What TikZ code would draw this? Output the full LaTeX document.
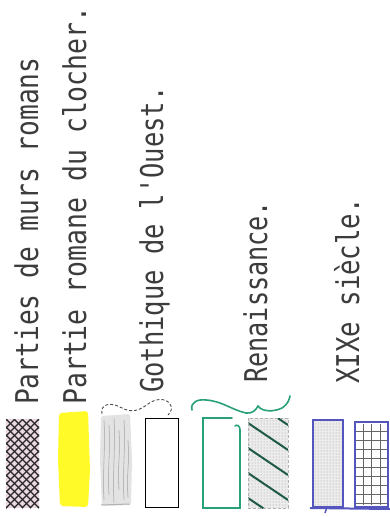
\documentclass[tikz,border=0pt]{standalone}
\usepackage{fontspec}
\newfontfamily\plotfont{DejaVu Sans Mono}
\usetikzlibrary{patterns}
\definecolor{txt}{RGB}{60,60,60}
\definecolor{grn}{RGB}{40,160,120}
\definecolor{dgrn}{RGB}{30,90,70}
\definecolor{blu}{RGB}{85,85,190}
\definecolor{yel}{RGB}{255,250,40}
\definecolor{pinkish}{RGB}{235,215,225}
\newcommand{\lt}[2]{\scalebox{#1}[1.22]{#2}}
\begin{document}
\begin{tikzpicture}[x=1pt,y=-1pt,
  lbl/.style={rotate=90, anchor=base west, inner sep=0pt,
    font=\plotfont\fontsize{25.7}{30}\selectfont, text=txt},
  swatch/.style={line width=1pt}]
\useasboundingbox (0,0) rectangle (390,517);
\fill[white] (0,0) rectangle (390,517);

% labels
\node[lbl] (t1) at (38,405) {\lt{1.02}{Parties de murs romans}};
\node[lbl] (t2) at (86,405) {\lt{1.03}{Partie romane du clocher.}};
\node[lbl] (t3) at (163,393) {\lt{0.99}{Gothique de l'Ouest.}};
\node[lbl] (t4) at (267,383) {\lt{0.98}{Renaissance.}};
\node[lbl] (t5) at (359,384) {\lt{1.0}{XIXe siècle.}};

% swatch 1 : diamond lattice
\begin{scope}
  \clip (6,419) rectangle (39,508);
  \fill[pinkish] (6,419) rectangle (39,508);
  \foreach \i in {-90,-82,...,46} {
    \draw[line width=1.4pt, black!85] (\i,419) -- ++(89,89);
    \draw[line width=1.4pt, black!85] (\i,508) -- ++(89,-89);
  }
\end{scope}

% swatch 2 : yellow
\fill[yel, rounded corners=3pt] (59,413) -- (88,411) -- (90,470) -- (88,507) -- (60,506) -- (58,460) -- cycle;

% swatch 3 : grey scribble
\fill[gray!22, rounded corners=2pt] (101,416) -- (130,414) -- (132,460) -- (131,505) -- (102,506) -- (100,460) -- cycle;
\foreach \x/\a/\b in {104/420/500, 109/425/495, 114/418/503, 119/430/490, 124/420/500, 128/440/498}
  \draw[gray!55, line width=0.8pt] (\x,\a) .. controls (\x+2,\a+30) and (\x-2,\b-30) .. (\x,\b);
\draw[gray!60, line width=1pt] (101,505) -- (130,504);
\draw[black!70, line width=0.9pt, densely dashed]
  (102,414) .. controls (100,404) and (110,402) .. (120,407)
  .. controls (132,414) and (140,410) .. (148,404)
  .. controls (156,398) and (166,398) .. (170,404)
  .. controls (173,408) and (171,412) .. (168,415);

% swatch 4 : empty black rectangle
\draw[swatch, black] (145,418) rectangle (178,507);

% green brace
\draw[grn, line width=1.6pt, line cap=round]
  (192,410) .. controls (190,402) and (198,399) .. (206,400)
  .. controls (222,401) and (232,410) .. (246,413)
  .. controls (252,414) and (256,410) .. (258,406)
  .. controls (262,412) and (274,412) .. (282,408)
  .. controls (288,404) and (289,400) .. (290,396);

% swatch 5 : open green rectangle
\draw[grn, line width=1.6pt, line cap=round]
  (232,418) -- (203,418) -- (203,508) -- (240,508) -- (240,430)
  .. controls (240,426) and (237,424) .. (235,426);

% swatch 6 : hatched
\begin{scope}
  \clip (248,418) rectangle (288,508);
  \fill[gray!15] (248,418) rectangle (288,508);
  \fill[pattern=dots, pattern color=gray!80] (248,418) rectangle (288,508);
  \foreach \y in {398,423,...,498}
    \draw[dgrn, line width=2pt] (248,\y) -- ++(40,27);
\end{scope}
\draw[gray!60, densely dashed, line width=0.8pt] (248,418) rectangle (288,508);

% swatch 7 : blue, dotted
\fill[gray!15] (313,420) rectangle (343,507);
\fill[pattern=dots, pattern color=gray!80] (313,420) rectangle (343,507);
\draw[blu, line width=2pt] (313,420) rectangle (343,507);
\draw[blu, line width=2pt] (310,508) -- (390,509);
\draw[blu, line width=1.5pt] (327,507) -- (325,513);

% swatch 8 : blue grid
\begin{scope}
  \clip (355,422) rectangle (388,507);
  \foreach \x in {363,371,380}
    \draw[black!60, line width=0.6pt] (\x,424) -- (\x,505);
  \foreach \y in {431,440,...,505}
    \draw[black!60, line width=0.6pt] (356,\y) -- (387,\y);
\end{scope}
\draw[blu, line width=2pt] (355,422) rectangle (388,507);
\end{tikzpicture}
\end{document}
